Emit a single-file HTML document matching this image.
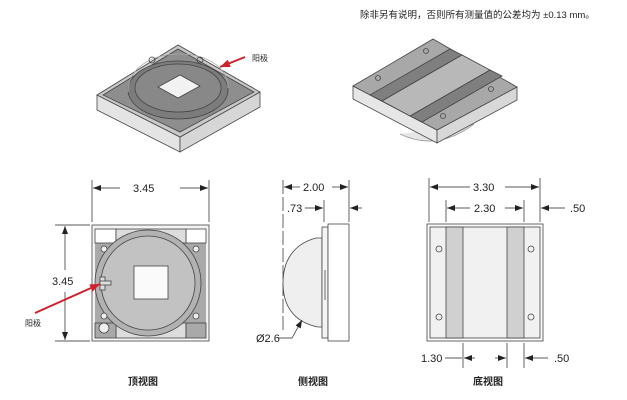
<!DOCTYPE html>
<html><head><meta charset="utf-8"><style>
body{margin:0;background:#fff}
svg{display:block}
text{font-family:"Liberation Sans","Noto Sans CJK SC",sans-serif}
</style></head><body>
<svg width="627" height="400" viewBox="0 0 627 400" xmlns="http://www.w3.org/2000/svg">
<defs>
<marker id="ar" markerWidth="8" markerHeight="6" refX="8" refY="3" orient="auto" markerUnits="userSpaceOnUse"><path d="M0,0 L8,3 L0,6 z" fill="#222"/></marker>
<marker id="rr" markerWidth="10" markerHeight="8" refX="10" refY="4" orient="auto" markerUnits="userSpaceOnUse"><path d="M0,0 L10,4 L0,8 z" fill="#d0202a"/></marker>
</defs>
<text x="360" y="18" font-size="9.5" fill="#222">除非另有说明，否则所有测量值的公差均为 ±0.13 mm。</text>

<!-- top-left iso -->
<g stroke="#444" stroke-width="0.8">
<path d="M97,95 L180,137 L180,152 L97,110 z" fill="#e4e4e4"/>
<path d="M180,137 L260,92 L260,107 L180,152 z" fill="#d6d6d6"/>
<path d="M97,95 L178,45 L260,92 L180,137 z" fill="#c8c8c8"/>
<path d="M103,95 L178,49 L254,92 L180,132 z" fill="#8e8e8e"/>
<ellipse cx="178" cy="90" rx="50" ry="29" fill="#7c7c7c"/>
<ellipse cx="178" cy="88" rx="43" ry="24" fill="#888"/>
<path d="M158,87 L180,75 L200,86 L178,98 z" fill="#f2f2f2"/>
<path d="M128,92 C128,42 228,42 228,88" fill="none" stroke="#aaa"/>
<circle cx="152" cy="60" r="3" fill="none"/><circle cx="200" cy="60" r="3" fill="none"/>
</g>
<line x1="245" y1="57" x2="220" y2="67" stroke="#d0202a" stroke-width="2" marker-end="url(#rr)"/>
<text x="252" y="61" font-size="8" fill="#222">阳极</text>

<!-- top-right iso -->
<g stroke="#444" stroke-width="0.8">
<path d="M400,134 Q437,152 474,124" fill="#e6e6e6" stroke="#999"/>
<path d="M353,86 L437,130 L437,143 L353,99 z" fill="#e6e6e6"/>
<path d="M437,130 L517,87 L517,100 L437,143 z" fill="#d8d8d8"/>
<path d="M353,86 L433,39 L517,87 L437,130 z" fill="#a8a8a8"/>
<path d="M370,95 L450,49 L462,55 L382,101 z" fill="#7f7f7f"/>
<path d="M410,116 L490,70 L502,76 L422,122 z" fill="#7f7f7f"/>
<path d="M382,101 L462,55 L490,70 L410,116 z" fill="#b8b8b8"/>
<circle cx="426" cy="51" r="2.5" fill="none"/><circle cx="378" cy="78" r="2.5" fill="none"/>
<circle cx="491" cy="89" r="2.5" fill="none"/><circle cx="443" cy="116" r="2.5" fill="none"/>
</g>

<!-- top view -->
<g stroke="#222" stroke-width="0.7" fill="none">
<line x1="92" y1="180" x2="92" y2="222"/><line x1="209" y1="180" x2="209" y2="222"/>
<line x1="120" y1="188" x2="93" y2="188" marker-end="url(#ar)"/><line x1="180" y1="188" x2="208" y2="188" marker-end="url(#ar)"/>
<line x1="55" y1="225" x2="90" y2="225"/><line x1="55" y1="341" x2="90" y2="341"/>
<line x1="65" y1="270" x2="65" y2="226" marker-end="url(#ar)"/><line x1="65" y1="292" x2="65" y2="340" marker-end="url(#ar)"/>
</g>
<text x="133" y="192" font-size="11" fill="#222">3.45</text>
<text x="52" y="285" font-size="11" fill="#222">3.45</text>
<g stroke="#444" stroke-width="0.8">
<rect x="92" y="225" width="117" height="116" fill="#f4f4f4"/>
<rect x="95" y="240" width="111" height="87" fill="#a9a9a9" stroke="none"/>
<rect x="95" y="229" width="21" height="14" fill="#fff"/><rect x="186" y="229" width="20" height="14" fill="#fff"/>
<rect x="116" y="229" width="70" height="14" fill="#ddd"/>
<rect x="116" y="323" width="70" height="15" fill="#ddd"/>
<rect x="95" y="323" width="21" height="15" fill="#a9a9a9"/><rect x="186" y="323" width="20" height="15" fill="#a9a9a9"/>
<circle cx="148" cy="283" r="53" fill="#b2b2b2"/>
<circle cx="148" cy="283" r="47" fill="#c2c2c2"/>
<rect x="134" y="266" width="34" height="33" fill="#fafafa"/>
<circle cx="104" cy="249" r="3" fill="#eee"/><circle cx="196" cy="249" r="3" fill="#eee"/>
<circle cx="104" cy="316" r="3" fill="#eee"/><circle cx="196" cy="316" r="3" fill="#eee"/>
<circle cx="104" cy="328" r="5" fill="#eee"/>
<rect x="100" y="277" width="5" height="13" fill="#ddd"/><rect x="100" y="281" width="11" height="4" fill="#ddd"/>
</g>
<line x1="35" y1="313" x2="100" y2="284" stroke="#d0202a" stroke-width="2" marker-end="url(#rr)"/>
<text x="25" y="326" font-size="8" fill="#222">阳极</text>
<text x="128" y="385" font-size="10" font-weight="bold" fill="#222">顶视图</text>

<!-- side view -->
<g stroke="#222" stroke-width="0.7" fill="none">
<line x1="283" y1="180" x2="283" y2="330" stroke-dasharray="14,3"/>
<line x1="349" y1="180" x2="349" y2="222"/><line x1="324" y1="200" x2="324" y2="222"/>
<line x1="300" y1="187" x2="284" y2="187" marker-end="url(#ar)"/><line x1="332" y1="187" x2="348" y2="187" marker-end="url(#ar)"/>
<line x1="305" y1="208" x2="323" y2="208" marker-end="url(#ar)"/><line x1="362" y1="208" x2="350" y2="208" marker-end="url(#ar)"/>
</g>
<text x="303" y="191" font-size="11" fill="#222">2.00</text>
<text x="287" y="212" font-size="11" fill="#222">.73</text>
<g stroke="#444" stroke-width="0.8">
<path d="M322,238 L316,238 C290,245 283,265 283,283 C283,305 293,322 318,327 L322,327 z" fill="#efefef"/>
<rect x="322" y="227" width="6" height="111" fill="#f4f4f4"/>
<rect x="328" y="224" width="21" height="117" fill="#fff"/>
<line x1="325" y1="270" x2="325" y2="300"/>
</g>
<path d="M278,338 L292,338 L302,320" stroke="#222" stroke-width="0.7" fill="none" marker-end="url(#ar)"/>
<text x="256" y="342" font-size="11" fill="#222">Ø2.6</text>
<text x="298" y="385" font-size="10" font-weight="bold" fill="#222">侧视图</text>

<!-- bottom view -->
<g stroke="#222" stroke-width="0.7" fill="none">
<line x1="429" y1="178" x2="429" y2="222"/><line x1="540" y1="178" x2="540" y2="222"/>
<line x1="446" y1="200" x2="446" y2="222"/><line x1="524" y1="200" x2="524" y2="222"/>
<line x1="470" y1="187" x2="430" y2="187" marker-end="url(#ar)"/><line x1="505" y1="187" x2="539" y2="187" marker-end="url(#ar)"/>
<line x1="470" y1="208" x2="447" y2="208" marker-end="url(#ar)"/><line x1="505" y1="208" x2="523" y2="208" marker-end="url(#ar)"/>
<line x1="565" y1="208" x2="541" y2="208" marker-end="url(#ar)"/>
<line x1="463" y1="343" x2="463" y2="368"/><line x1="507" y1="343" x2="507" y2="368"/><line x1="524" y1="343" x2="524" y2="368"/>
<line x1="445" y1="358" x2="462" y2="358"/>
<line x1="475" y1="358" x2="464" y2="358" marker-end="url(#ar)"/><line x1="495" y1="358" x2="506" y2="358" marker-end="url(#ar)"/>
<line x1="548" y1="358" x2="525" y2="358" marker-end="url(#ar)"/>
</g>
<text x="473" y="191" font-size="11" fill="#222">3.30</text>
<text x="474" y="212" font-size="11" fill="#222">2.30</text>
<text x="570" y="212" font-size="11" fill="#222">.50</text>
<text x="421" y="362" font-size="11" fill="#222">1.30</text>
<text x="554" y="362" font-size="11" fill="#222">.50</text>
<g stroke="#444" stroke-width="0.8">
<rect x="427" y="224" width="116" height="117" fill="#fafafa"/>
<rect x="430" y="227" width="110" height="111" fill="#f1f1f1"/>
<rect x="446" y="227" width="17" height="111" fill="#d0d0d0"/>
<rect x="507" y="227" width="17" height="111" fill="#d0d0d0"/>
<circle cx="439" cy="249" r="3" fill="none"/><circle cx="531" cy="249" r="3" fill="none"/>
<circle cx="439" cy="317" r="3" fill="none"/><circle cx="531" cy="317" r="3" fill="none"/>
</g>
<text x="473" y="385" font-size="10" font-weight="bold" fill="#222">底视图</text>
</svg>
</body></html>
